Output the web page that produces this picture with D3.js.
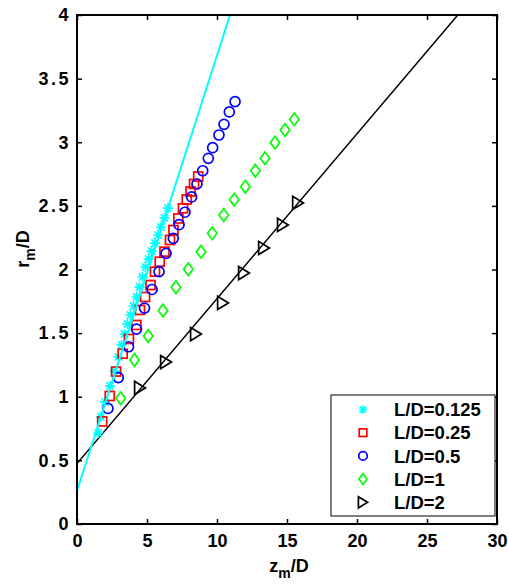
<!DOCTYPE html>
<html>
<head>
<meta charset="utf-8">
<script src="https://cdn.jsdelivr.net/npm/d3@7"></script>
<style>
  body { margin: 0; background: #fff; }
  text { font-family: "Liberation Sans", Arial, sans-serif; font-weight: bold; }
</style>
</head>
<body>
<svg id="graph"></svg>
<script>
// données (z_m/D, r_m/D)
const zStar = [1.52, 1.71, 2.0, 2.36, 2.68, 2.96, 3.18, 3.39, 3.61, 3.82, 4.04, 4.25, 4.46, 4.68, 4.89, 5.11, 5.32, 5.57, 5.79, 6.0, 6.25, 6.5];
const rStar = [0.715, 0.841, 0.959, 1.084, 1.202, 1.312, 1.407, 1.493, 1.572, 1.643, 1.713, 1.784, 1.862, 1.941, 2.02, 2.083, 2.145, 2.208, 2.271, 2.334, 2.405, 2.483];

const zSquare = [1.8, 2.34, 2.79, 3.26, 3.71, 4.24, 4.5, 4.86, 5.25, 5.57, 5.91, 6.25, 6.64, 6.89, 7.24, 7.57, 7.84, 8.11, 8.36, 8.66];
const rSquare = [0.806, 1.006, 1.198, 1.338, 1.454, 1.564, 1.682, 1.784, 1.878, 1.983, 2.061, 2.14, 2.232, 2.31, 2.401, 2.481, 2.55, 2.613, 2.672, 2.731];

const zCircle = [2.21, 2.95, 3.68, 4.25, 4.82, 5.36, 5.86, 6.36, 6.88, 7.29, 7.71, 8.19, 8.57, 8.98, 9.38, 9.69, 10.14, 10.5, 10.88, 11.29];
const rCircle = [0.908, 1.151, 1.393, 1.532, 1.697, 1.843, 1.983, 2.127, 2.245, 2.352, 2.45, 2.57, 2.672, 2.776, 2.874, 2.957, 3.057, 3.141, 3.238, 3.319];

const zDiamond = [3.12, 4.11, 5.09, 6.14, 7.07, 7.95, 8.86, 9.66, 10.48, 11.23, 12.02, 12.74, 13.43, 14.14, 14.86, 15.52];
const rDiamond = [0.988, 1.289, 1.477, 1.678, 1.86, 2.002, 2.14, 2.284, 2.428, 2.549, 2.651, 2.776, 2.874, 2.997, 3.096, 3.18];

const zTri = [4.5, 6.36, 8.5, 10.43, 11.93, 13.36, 14.71, 15.79];
const rTri = [1.069, 1.273, 1.493, 1.737, 1.972, 2.169, 2.35, 2.523];

// droites d'ajustement (extrémités)
const fitCyan = [[0, 0.26], [10.93, 4]];
const fitBlack = [[0, 0.475], [27.2, 4]];

const xTicks = [0, 5, 10, 15, 20, 25, 30];
const yTicks = [0, 0.5, 1, 1.5, 2, 2.5, 3, 3.5, 4];
const labels = ["L/D=0.125", "L/D=0.25", "L/D=0.5", "L/D=1", "L/D=2"];

const largeur = 509, hauteur = 585;
const marge = { gauche: 77, droite: 12, haut: 15, bas: 61 };
const police = '"Liberation Sans", Arial, sans-serif';

const svg = d3.select('#graph')
  .attr("width", largeur)
  .attr("height", hauteur);

const x = d3.scaleLinear().domain([0, 30]).range([marge.gauche, largeur - marge.droite]);
const y = d3.scaleLinear().domain([0, 4]).range([hauteur - marge.bas, marge.haut]);

svg.append("clipPath").attr("id", "clip")
  .append("rect")
  .attr("x", x(0)).attr("y", y(4))
  .attr("width", x(30) - x(0)).attr("height", y(0) - y(4));

// symboles façon matlab
const symbole = {
  star: (g, c, s) => {
    const a = s / 2, b = a * 0.72;
    g.append("path").attr("d", `M${-a},0H${a}M0,${-a}V${a}M${-b},${-b}L${b},${b}M${-b},${b}L${b},${-b}`)
      .attr("stroke", c).attr("stroke-width", 1.7).attr("fill", "none");
  },
  square: (g, c, s) => {
    g.append("rect").attr("x", -s / 2).attr("y", -s / 2).attr("width", s).attr("height", s)
      .attr("stroke", c).attr("stroke-width", 1.7).attr("fill", "none");
  },
  circle: (g, c, s) => {
    g.append("circle").attr("r", s / 2)
      .attr("stroke", c).attr("stroke-width", 1.7).attr("fill", "none");
  },
  diamond: (g, c, s) => {
    const w = s * 0.45, h = s * 0.6;
    g.append("path").attr("d", `M0,${-h}L${w},0L0,${h}L${-w},0Z`)
      .attr("stroke", c).attr("stroke-width", 1.7).attr("fill", "none");
  },
  tri: (g, c, s) => {
    const w = s * 0.45, h = s * 0.55;
    g.append("path").attr("d", `M${w},0L${-w},${-h}L${-w},${h}Z`)
      .attr("stroke", c).attr("stroke-width", 1.7).attr("fill", "none");
  }
};

const series = [
  { z: zStar, r: rStar, type: "star", couleur: "#00ffff", taille: 10 },
  { z: zSquare, r: rSquare, type: "square", couleur: "#ff0000", taille: 9 },
  { z: zCircle, r: rCircle, type: "circle", couleur: "#0000ff", taille: 10 },
  { z: zDiamond, r: rDiamond, type: "diamond", couleur: "#00ff00", taille: 10.5 },
  { z: zTri, r: rTri, type: "tri", couleur: "#000000", taille: 12 }
];

const trace = d3.line().x(d => x(d[0])).y(d => y(d[1]));

// droites
const zone = svg.append("g").attr("clip-path", "url(#clip)");
zone.append("path").attr("d", trace(fitBlack))
  .attr("stroke", "#000").attr("stroke-width", 1.5).attr("fill", "none");

// points
series.forEach(s => {
  s.z.forEach((zv, i) => {
    const g = zone.append("g").attr("transform", `translate(${x(zv)},${y(s.r[i])})`);
    symbole[s.type](g, s.couleur, s.taille);
  });
});

zone.append("path").attr("d", trace(fitCyan))
  .attr("stroke", "#00ffff").attr("stroke-width", 2).attr("fill", "none");

// cadre et graduations
svg.append("rect")
  .attr("x", x(0)).attr("y", y(4))
  .attr("width", x(30) - x(0)).attr("height", y(0) - y(4))
  .attr("fill", "none").attr("stroke", "#000").attr("stroke-width", 2);

const axeX = svg.append("g").attr("transform", `translate(0,${y(0)})`)
  .call(d3.axisBottom(x).tickValues(xTicks).tickSize(-5).tickPadding(10).tickFormat(d3.format("d")));
const axeXHaut = svg.append("g").attr("transform", `translate(0,${y(4)})`)
  .call(d3.axisTop(x).tickValues(xTicks).tickSize(-5).tickFormat(""));
const axeY = svg.append("g").attr("transform", `translate(${x(0)},0)`)
  .call(d3.axisLeft(y).tickValues(yTicks).tickSize(-5).tickPadding(6).tickFormat(d => d));
const axeYDroite = svg.append("g").attr("transform", `translate(${x(30)},0)`)
  .call(d3.axisRight(y).tickValues(yTicks).tickSize(-5).tickFormat(""));

[axeX, axeXHaut, axeY, axeYDroite].forEach(a => {
  a.attr("font-family", police).attr("font-size", 18).attr("font-weight", "bold");
  a.select(".domain").remove();
  a.selectAll("line").attr("stroke", "#000").attr("stroke-width", 1.5);
  a.selectAll("text").attr("fill", "#000");
});
axeY.selectAll("text").attr("letter-spacing", 2.5);

// titres des axes
const titreX = svg.append("text").attr("x", 289).attr("y", 572)
  .attr("text-anchor", "middle").style("font-size", "18px");
titreX.append("tspan").text("z");
titreX.append("tspan").attr("dy", 6).style("font-size", "14px").text("m");
titreX.append("tspan").attr("dy", -6).text("/D");

const titreY = svg.append("text").attr("transform", "translate(29,249) rotate(-90)")
  .attr("text-anchor", "middle").style("font-size", "18px");
titreY.append("tspan").text("r");
titreY.append("tspan").attr("dy", 6).style("font-size", "14px").text("m");
titreY.append("tspan").attr("dy", -6).text("/D");

// légende
const legende = svg.append("g");
legende.append("rect").attr("x", 331).attr("y", 395).attr("width", 164).attr("height", 121)
  .attr("fill", "#fff").attr("stroke", "#000").attr("stroke-width", 1);

series.forEach((s, i) => {
  const yy = 409.5 + i * 23.2;
  const g = legende.append("g").attr("transform", `translate(363,${yy})`);
  symbole[s.type](g, s.couleur, s.taille * 0.85);
  legende.append("text").attr("x", 394).attr("y", yy).attr("dy", "0.36em")
    .style("font-size", "18.5px").text(labels[i]);
});
</script>
</body>
</html>
